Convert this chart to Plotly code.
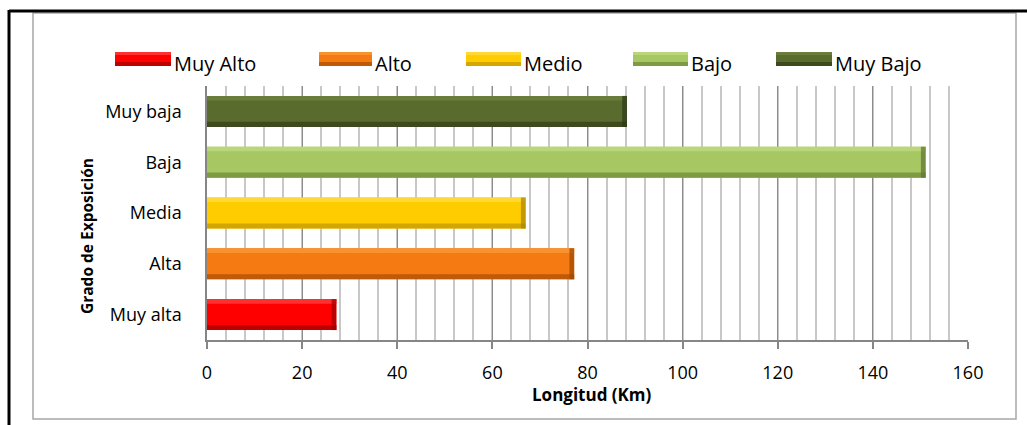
import plotly.graph_objects as go

# Exposure categories (bottom to top) and their lengths in km
categories = ["Muy alta", "Alta", "Media", "Baja", "Muy baja"]
lengths_km = [27.2, 77.2, 67.0, 151.1, 88.3]
legend_names = ["Muy Alto", "Alto", "Medio", "Bajo", "Muy Bajo"]

x_ticks = [0, 20, 40, 60, 80, 100, 120, 140, 160]

# Fill / highlight / shadow tones for each class (bevelled look)
main_colors = ["#FF0000", "#F57A12", "#FFCC00", "#A7C762", "#5A6B2E"]
top_colors = ["#FF3030", "#F8922F", "#FFD836", "#B9D67A", "#6A7D3A"]
bottom_colors = ["#BF0000", "#BF5A08", "#D4A600", "#7F9B42", "#3E4A1E"]
end_colors = ["#A00000", "#9A4700", "#A88400", "#5E7430", "#2E3816"]

W, H = 1027, 425
L, R, T, B = 207, 968, 86, 340
FONT = "Open Sans"

def px(xp):
    return (xp - L) / (R - L)

def py(yp):
    return (B - yp) / (B - T)

fig = go.Figure()

bar_w = 0.61
half = bar_w / 2
for i, (cat, val, name) in enumerate(zip(categories, lengths_km, legend_names)):
    # main bar
    fig.add_trace(go.Bar(
        y=[cat], x=[val], orientation="h", name=name,
        marker=dict(color=main_colors[i], line=dict(width=0)),
        width=bar_w, offset=-half, showlegend=False, hoverinfo="x+y"))
    # lighter top band
    fig.add_trace(go.Bar(
        y=[cat], x=[val], orientation="h",
        marker=dict(color=top_colors[i], line=dict(width=0)),
        width=0.09, offset=half - 0.09, showlegend=False, hoverinfo="skip"))
    # darker bottom band
    fig.add_trace(go.Bar(
        y=[cat], x=[val], orientation="h",
        marker=dict(color=bottom_colors[i], line=dict(width=0)),
        width=0.1, offset=-half, showlegend=False, hoverinfo="skip"))
    # shaded right end
    fig.add_trace(go.Bar(
        y=[cat], x=[1.0], base=[val - 1.0], orientation="h",
        marker=dict(color=end_colors[i], line=dict(width=0), opacity=0.7),
        width=bar_w, offset=-half, showlegend=False, hoverinfo="skip"))

shapes = []
annotations = []

# outer frame lines (black) and inner chart border (gray)
shapes.append(dict(type="line", xref="paper", yref="paper",
                   x0=px(9), x1=px(1030), y0=py(11), y1=py(11),
                   line=dict(color="black", width=3), layer="above"))
shapes.append(dict(type="line", xref="paper", yref="paper",
                   x0=px(9), x1=px(9), y0=py(10), y1=py(430),
                   line=dict(color="black", width=3), layer="above"))
shapes.append(dict(type="rect", xref="paper", yref="paper",
                   x0=px(33), x1=px(1016), y0=py(13), y1=py(419),
                   line=dict(color="#A6A6A6", width=1.5), fillcolor="rgba(0,0,0,0)",
                   layer="below"))

# legend swatches and labels
legend_items = [(115, 171), (319, 372), (466, 521), (633, 688), (776, 832)]
for idx, (x0, x1) in enumerate(legend_items):
    shapes.append(dict(type="rect", xref="paper", yref="paper",
                       x0=px(x0), x1=px(x1), y0=py(66), y1=py(52),
                       fillcolor=main_colors[idx], line=dict(width=0)))
    shapes.append(dict(type="rect", xref="paper", yref="paper",
                       x0=px(x0), x1=px(x1), y0=py(55), y1=py(52),
                       fillcolor=top_colors[idx], line=dict(width=0)))
    shapes.append(dict(type="rect", xref="paper", yref="paper",
                       x0=px(x0), x1=px(x1), y0=py(66), y1=py(62),
                       fillcolor=bottom_colors[idx], line=dict(width=0)))
    annotations.append(dict(text=legend_names[idx], xref="paper", yref="paper",
                            x=px(x1 + 1), y=py(64), xanchor="left", yanchor="middle",
                            showarrow=False, font=dict(family=FONT, size=20, color="#000000")))

# axis titles
annotations.append(dict(text="<b>Longitud (Km)</b>", xref="paper", yref="paper",
                        x=px(592), y=py(394), xanchor="center", yanchor="middle",
                        showarrow=False, font=dict(family=FONT, size=17, color="#000000")))
annotations.append(dict(text="<b>Grado de Exposición</b>", xref="paper", yref="paper",
                        x=px(87), y=py(236), xanchor="center", yanchor="middle",
                        textangle=-90, showarrow=False,
                        font=dict(family=FONT, size=15.5, color="#000000")))

fig.update_layout(
    width=W, height=H,
    margin=dict(l=L, r=W - R, t=T, b=H - B, pad=0),
    paper_bgcolor="white", plot_bgcolor="white",
    barmode="overlay", bargap=0.39,
    showlegend=False,
    shapes=shapes, annotations=annotations,
    font=dict(family=FONT, size=18, color="#000000"),
    xaxis=dict(
        range=[0, 160], tickvals=x_ticks, ticktext=[str(v) for v in x_ticks],
        showgrid=True, gridcolor="#8C8C8C", gridwidth=1,
        minor=dict(dtick=4, showgrid=True, gridcolor="#C8C8C8", gridwidth=1.5),
        showline=True, linecolor="#868686", linewidth=1.5,
        ticks="outside", ticklen=7, tickcolor="#868686", tickwidth=1.5,
        ticklabelstandoff=9,
        tickfont=dict(family=FONT, size=18, color="#000000"),
        zeroline=False, fixedrange=True),
    yaxis=dict(
        type="category", categoryorder="array", categoryarray=categories,
        showgrid=False, showline=True, linecolor="#868686", linewidth=1.5,
        ticks="", ticklabelstandoff=20,
        tickfont=dict(family=FONT, size=18, color="#000000"),
        fixedrange=True),
)

fig.write_html("out.html")
